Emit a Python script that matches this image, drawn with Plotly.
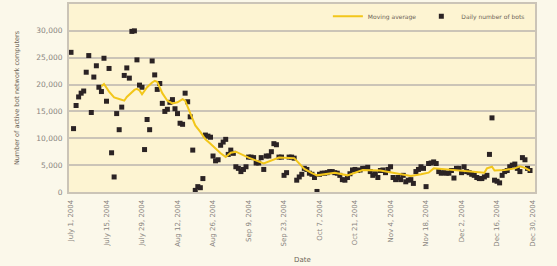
import pandas as pd
import plotly.graph_objects as go

START = pd.Timestamp("2004-07-01")

# Daily number of bots: day offset from July 1, 2004 and value
bot_day = list(range(0, 182))
bot_value = [
    26000, 11800, 16100, 17700, 18400, 18800, 22300, 25400, 14800, 21400,
    23500, 19500, 18700, 24900, 16900, 23000, 7300, 2800, 14600, 11600,
    15800, 21700, 23100, 21200, 29900, 30000, 24600, 19900, 19500, 7900,
    13500, 11600, 24400, 21800, 19100, 20200, 16500, 15000, 15400, 16700,
    17200, 15500, 14600, 12800, 12600, 18400, 16800, 14000, 7800, 300,
    1000, 800, 2500, 10600, 10400, 10200, 6700, 5800, 6000, 8700,
    9300, 9800, 7000, 7800, 7200, 4700, 4400, 3800, 4200, 4700,
    6500, 6500, 6400, 5400, 5400, 6400, 4200, 6700, 6700, 7500,
    9000, 8800, 6500, 6500, 3100, 3600, 6500, 6500, 6300, 2200,
    2800, 3300, 4400, 4200, 3500, 3300, 2700, 100, 3300, 3500,
    3500, 3600, 3800, 3800, 3600, 3500, 3100, 2300, 2200, 2700,
    3400, 4100, 4200, 4000, 4100, 4400, 4400, 4600, 3800, 3100,
    3400, 2700, 4000, 4100, 3600, 4200, 4700, 2700, 2300, 2700,
    2300, 3100, 1900, 2200, 2300, 1600, 3800, 4200, 4700, 4400,
    1000, 5300, 5400, 5600, 5300, 3800, 3500, 3600, 3500, 3500,
    4000, 2600, 4400, 4400, 3600, 4700, 3800, 3600, 3300, 3100,
    2700, 2500, 2500, 2800, 3100, 7000, 13800, 2200, 2000, 1700,
    3100, 3800, 4000, 4700, 5000, 5200, 4400, 3800, 6400, 6000,
    4400, 4000,
]

# Moving average: day offset and value
ma_day = [12, 13, 15, 17, 19, 21, 22, 25, 26, 27, 28, 30, 32, 33, 34, 36, 38,
          40, 42, 44, 45, 47, 49, 51, 53, 55, 59, 61, 63, 65, 67, 70, 76, 79,
          82, 88, 92, 95, 97, 104, 109, 115, 122, 128, 134, 138, 141, 143,
          149, 159, 163, 164, 166, 167, 171, 175, 177, 179, 181]
ma_value = [19700, 20100, 18700, 17600, 17300, 17000, 17700, 19000, 19200,
            18900, 18200, 19500, 20400, 20700, 20500, 18400, 17000, 16500,
            16700, 17300, 17000, 14600, 12400, 11200, 9800, 9000, 7200, 6500,
            7300, 7500, 7000, 6400, 5300, 5900, 6400, 6300, 4300, 3500, 3100,
            3600, 3100, 4100, 4000, 3500, 3000, 3300, 3600, 4400, 4200, 3800,
            3600, 4400, 4700, 4000, 4100, 4400, 4800, 4500, 4000]

tick_day = [0, 14, 28, 42, 56, 70, 84, 98, 112, 126, 140, 154, 168, 182]
tick_text = ["July 1, 2004", "July 15, 2004", "July 29, 2004", "Aug 12, 2004",
             "Aug 26, 2004", "Sep 9, 2004", "Sep 23, 2004", "Oct 7, 2004",
             "Oct 21, 2004", "Nov 4, 2004", "Nov 18, 2004", "Dec 2, 2004",
             "Dec 16, 2004", "Dec 30, 2004"]

y_ticks = [0, 5000, 10000, 15000, 20000, 25000, 30000, 35000]


def to_dates(days):
    return START + pd.to_timedelta(days, unit="D")


PAPER = "#fbf8ea"
PLOT = "#fdf4d2"
GRID = "#cbc4b7"
TEXT = "#8a8580"
FONT = "DejaVu Sans"

fig = go.Figure()
fig.add_trace(go.Scatter(
    x=to_dates(bot_day), y=bot_value, mode="markers",
    name="Daily number of bots",
    marker=dict(symbol="square", size=5, color="#2b2324"),
    legendrank=2,
))
fig.add_trace(go.Scatter(
    x=to_dates(ma_day), y=ma_value, mode="lines",
    name="Moving average",
    line=dict(color="#f2c61a", width=2),
    legendrank=1,
))

fig.update_layout(
    width=557, height=266,
    margin=dict(l=69, r=22, t=3, b=74),
    paper_bgcolor=PAPER, plot_bgcolor=PLOT,
    font=dict(family=FONT, size=7, color=TEXT),
    showlegend=True,
    legend=dict(orientation="h", x=0.989, xanchor="right", y=0.93,
                yanchor="middle", bgcolor="rgba(0,0,0,0)",
                font=dict(size=6, color="#6e6558", family=FONT),
                itemwidth=30, tracegroupgap=0),
)

fig.update_xaxes(
    type="date",
    range=[START - pd.Timedelta(hours=19), START + pd.Timedelta(days=182, hours=23)],
    tickvals=to_dates(tick_day), ticktext=tick_text, tickangle=-90,
    tickfont=dict(size=7, color=TEXT, family=FONT),
    showgrid=False, zeroline=False,
    showline=True, linecolor=GRID, linewidth=2, mirror=True,
    ticks="outside", ticklen=3, tickcolor="rgba(0,0,0,0)",
)
fig.update_yaxes(
    range=[0, 35000], tickvals=y_ticks, tickformat=",",
    tickfont=dict(size=7.5, color=TEXT, family=FONT),
    showgrid=True, gridcolor=GRID, gridwidth=1.5, zeroline=False,
    showline=True, linecolor=GRID, linewidth=2, mirror=True,
    ticks="outside", ticklen=3, tickcolor="rgba(0,0,0,0)",
    title=dict(text="Number of active bot network computers",
               font=dict(size=6.5, color="#6e6558", family=FONT), standoff=16),
)

fig.add_annotation(text="Date", xref="paper", yref="paper", x=0.5, y=0,
                   yanchor="top", yshift=-62, showarrow=False,
                   font=dict(size=7, color="#6e6558", family=FONT))

fig.write_html("out.html")
